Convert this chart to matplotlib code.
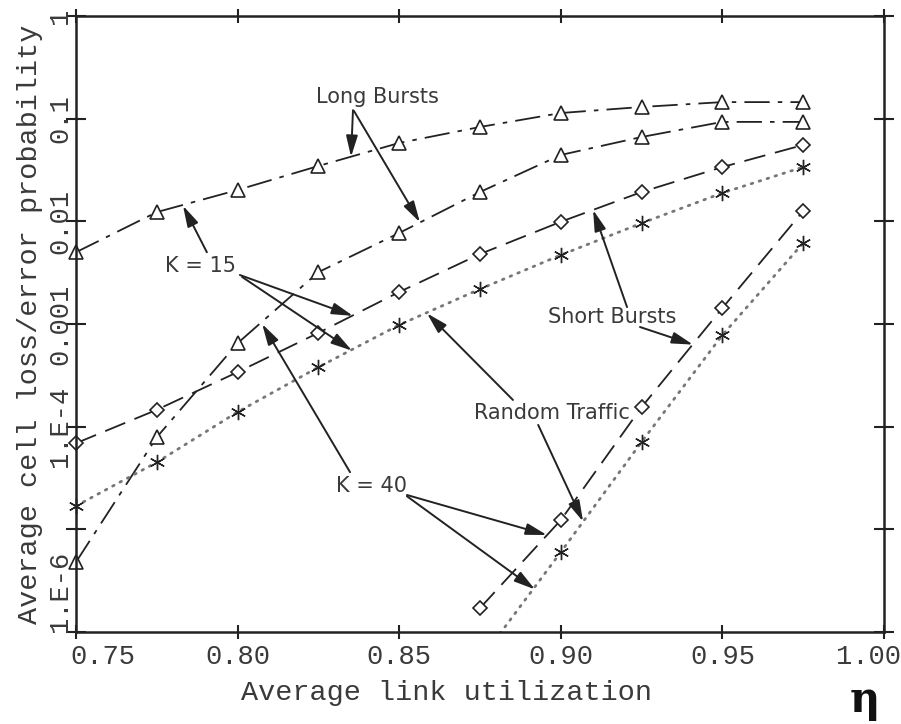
import matplotlib
matplotlib.use('Agg')
import matplotlib.pyplot as plt
from matplotlib.ticker import NullLocator
from matplotlib.transforms import ScaledTranslation

# 読み取った値
eta = [0.75, 0.775, 0.80, 0.825, 0.85, 0.875, 0.90, 0.925, 0.95, 0.975]
k15_long = [5.0e-3, 1.23e-2, 2.02e-2, 3.46e-2, 5.8e-2, 8.3e-2, 0.1135, 0.130, 0.145, 0.145]
k40_long = [4.8e-6, 7.9e-5, 6.5e-4, 3.2e-3, 7.7e-3, 1.93e-2, 4.43e-2, 6.63e-2, 9.3e-2, 9.3e-2]
k15_short = [6.9e-5, 1.46e-4, 3.4e-4, 8.2e-4, 2.05e-3, 4.8e-3, 9.9e-3, 1.93e-2, 3.38e-2, 5.54e-2]
k15_random = [1.69e-5, 4.5e-5, 1.39e-4, 3.8e-4, 9.8e-4, 2.19e-3, 4.7e-3, 9.6e-3, 1.89e-2, 3.38e-2]
eta_k40 = [0.875, 0.90, 0.925, 0.95, 0.975]
k40_short = [1.71e-6, 1.23e-5, 1.55e-4, 1.43e-3, 1.26e-2]
k40_random = [5.3e-7, 6.0e-6, 7.1e-5, 7.8e-4, 6.15e-3]

xticks = [0.75, 0.80, 0.85, 0.90, 0.95, 1.00]
xtick_labels = ['0.75', '0.80', '0.85', '0.90', '0.95', '1.00']
yticks = [1e-6, 1e-5, 1e-4, 1e-3, 1e-2, 1e-1, 1]
ytick_labels = ['1.E-6', '', '1.E-4', '0.001', '0.01', '0.1', '1']

# 注釈: (文字, 位置, [(始点, 矢先), ...])
notes = [
    ('Long Bursts', (0.8434, 0.163), [((0.8357, 0.121), (0.8351, 0.0425)),
                                       ((0.8360, 0.119), (0.8564, 0.0098))]),
    ('K = 15', (0.7884, 3.67e-3), [((0.7905, 5.0e-3), (0.7831, 0.0142)),
                                   ((0.8007, 3.0e-3), (0.8357, 1.2e-3)),
                                   ((0.8014, 2.87e-3), (0.8354, 5.5e-4))]),
    ('K = 40', (0.8413, 2.64e-5), [((0.8348, 3.6e-5), (0.8076, 1.0e-3)),
                                   ((0.8524, 2.16e-5), (0.8957, 8.8e-6)),
                                   ((0.8524, 2.1e-5), (0.8920, 2.6e-6))]),
    ('Short Bursts', (0.9158, 1.17e-3), [((0.9205, 1.46e-3), (0.9100, 0.0129)),
                                         ((0.9245, 9.35e-4), (0.9409, 6.3e-4))]),
    ('Random Traffic', (0.8973, 1.36e-4), [((0.8852, 1.82e-4), (0.8586, 1.27e-3)),
                                           ((0.8930, 1.04e-4), (0.9069, 1.19e-5))]),
]

ink = '#222222'
txt = '#3a3a3a'
mono = 'Liberation Mono'

fig = plt.figure(figsize=(9.01, 7.24), dpi=100)
ax = fig.add_axes([76/901, 1 - 632/724, 808/901, 616/724])

dashdot = (0, (14, 4.5, 2.5, 4.5))
dashed = (0, (12, 5.5))
dotted = (0, (0.6, 2.4))

for ys in (k15_long, k40_long):
    ax.plot(eta, ys, color=ink, lw=1.3, ls=dashdot, marker='^', ms=9.5,
            mfc='white', mec=ink, mew=1.2, clip_on=False)
ax.plot(eta, k15_short, color=ink, lw=1.3, ls=dashed, marker='D', ms=7,
        mfc='white', mec=ink, mew=1.2, clip_on=False)
ax.plot(eta_k40, k40_short, color=ink, lw=1.3, ls=dashed, marker='D', ms=7,
        mfc='white', mec=ink, mew=1.2)
# ランダムトラフィック（K=40 の 0.875 点は軸の下なので切り取る）
ax.plot(eta, k15_random, color='#777777', lw=2.0, ls=dotted, dash_capstyle='round')
ax.plot(eta, k15_random, ls='none', marker=(6, 2, 0), ms=11, mec=ink, mew=1.0,
        clip_on=False)
ax.plot(eta_k40, k40_random, color='#777777', lw=2.0, ls=dotted, dash_capstyle='round')
ax.plot(eta_k40, k40_random, ls='none', marker=(6, 2, 0), ms=11, mec=ink, mew=1.0)

arrow = dict(arrowstyle='-|>,head_length=0.8,head_width=0.22', color=ink,
             lw=1.4, shrinkA=0, shrinkB=0, mutation_scale=16)
for label, pos, arrows in notes:
    ax.text(pos[0], pos[1], label, ha='center', va='center', fontsize=15,
            family='DejaVu Sans', color=txt)
    for start, tip in arrows:
        ax.annotate('', xy=tip, xytext=start, arrowprops=arrow)

ax.set_yscale('log')
ax.set_xlim(0.75, 1.0)
ax.set_ylim(1e-6, 1)
ax.yaxis.set_minor_locator(NullLocator())
ax.set_xticks(xticks)
ax.set_xticklabels(xtick_labels, fontfamily=mono, fontsize=19.5, color=txt)
ax.set_yticks(yticks)
ax.set_yticklabels(ytick_labels, fontfamily=mono, fontsize=19.5, color=txt,
                   rotation=90, va='center')
ax.get_yticklabels()[0].set_va('bottom')

ax.tick_params(axis='both', direction='inout', top=True, right=True,
               color=ink, width=1.5)
ax.tick_params(axis='x', length=10, pad=4)
ax.tick_params(axis='y', length=14, pad=-5)
for sp in ax.spines.values():
    sp.set_linewidth(1.8)
    sp.set_color(ink)

# 端のラベルを内側へずらす
xl = ax.get_xticklabels()
xl[0].set_transform(xl[0].get_transform() + ScaledTranslation(0.27, 0, fig.dpi_scale_trans))
xl[-1].set_transform(xl[-1].get_transform() + ScaledTranslation(-0.16, 0, fig.dpi_scale_trans))

ax.set_xlabel('Average link utilization', fontfamily=mono, fontsize=20.5, color=txt)
ax.xaxis.set_label_coords(0.459, -0.078)
ax.set_ylabel('Average cell loss/error probability', fontfamily=mono, fontsize=20.5,
              color=txt)
ax.yaxis.set_label_coords(-0.041, 0.5)

fig.text(865/901, 1 - 700/724, 'η', fontsize=30, fontweight='bold', ha='center',
         va='center', family='DejaVu Serif', color='#111111')

fig.savefig('out.png', dpi=100)
